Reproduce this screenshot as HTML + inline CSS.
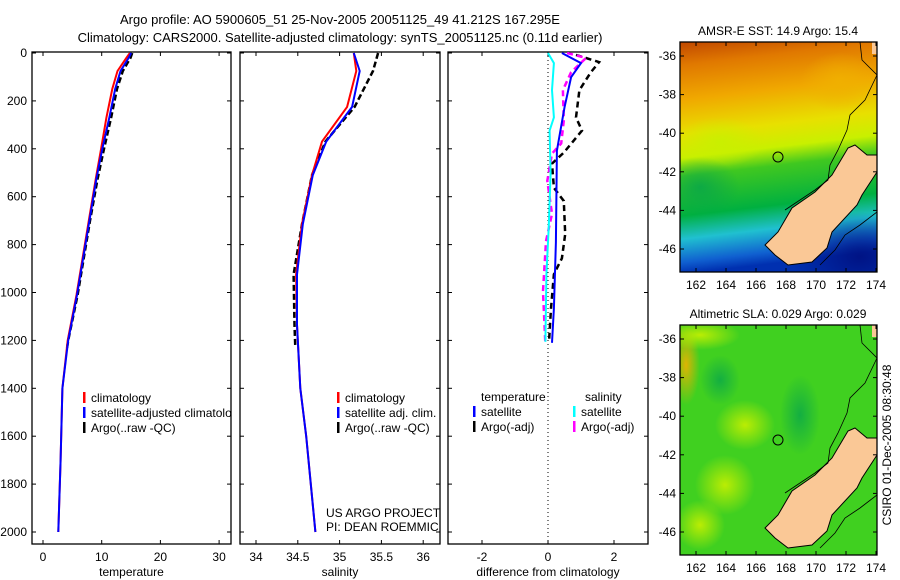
<!DOCTYPE html>
<html><head><meta charset="utf-8"><style>
body{margin:0;background:#fff;}
svg{display:block;font-family:"Liberation Sans",sans-serif;}
</style></head><body>
<svg id="fig" width="900" height="580" viewBox="0 0 900 580" xmlns="http://www.w3.org/2000/svg">
<defs>
<linearGradient id="sstg" x1="0" y1="0" x2="0.1" y2="1">
<stop offset="0" stop-color="#c04800"/><stop offset="0.1" stop-color="#e07800"/><stop offset="0.25" stop-color="#f0a800"/><stop offset="0.4" stop-color="#e8e000"/><stop offset="0.5" stop-color="#c8f000"/><stop offset="0.58" stop-color="#40c820"/><stop offset="0.75" stop-color="#00b040"/><stop offset="0.85" stop-color="#20c0d0"/><stop offset="0.95" stop-color="#1060d0"/><stop offset="1" stop-color="#0030b0"/>
</linearGradient>
<radialGradient id="blob1"><stop offset="0" stop-color="#c8f000" stop-opacity="0.9"/><stop offset="1" stop-color="#c8f000" stop-opacity="0"/></radialGradient>
<radialGradient id="blob2"><stop offset="0" stop-color="#f0b000" stop-opacity="0.9"/><stop offset="1" stop-color="#f0b000" stop-opacity="0"/></radialGradient>
<radialGradient id="blob3"><stop offset="0" stop-color="#00a050" stop-opacity="0.7"/><stop offset="1" stop-color="#00a050" stop-opacity="0"/></radialGradient>
<radialGradient id="blob4"><stop offset="0" stop-color="#001080" stop-opacity="0.9"/><stop offset="1" stop-color="#001080" stop-opacity="0"/></radialGradient>
<clipPath id="c1"><rect x="32" y="52" width="199" height="492"/></clipPath>
<clipPath id="c2"><rect x="240" y="52" width="200" height="492"/></clipPath>
<clipPath id="c3"><rect x="448" y="52" width="200" height="492"/></clipPath>
<clipPath id="m1"><rect x="680" y="42" width="197" height="230"/></clipPath>
<clipPath id="m2"><rect x="680" y="325" width="197" height="230"/></clipPath>
</defs>
<text x="340" y="24" font-size="13" text-anchor="middle">Argo profile: AO 5900605_51 25-Nov-2005 20051125_49 41.212S 167.295E</text>
<text x="340" y="42" font-size="13" text-anchor="middle">Climatology: CARS2000. Satellite-adjusted climatology: synTS_20051125.nc (0.11d earlier)</text>
<g id="panels"></g>
<g id="maps"></g>
<text transform="translate(891,445) rotate(-90)" font-size="12" text-anchor="middle">CSIRO 01-Dec-2005 08:30:48</text>
</svg>
<script>
// ---- data ----
const depthT = [0,20,75,150,270,400,525,700,1010,1200,1400,1700,2000];
const tempClim = [14.8,14.2,12.7,11.8,10.8,9.9,9.0,7.8,5.7,4.2,3.3,3.0,2.6];
const tempSat = [15.0,14.6,13.2,12.3,11.3,10.1,9.1,7.9,5.8,4.3,3.3,3.0,2.6];
const depthArgoT = [0,20,75,150,270,400,525,700,1010,1200,1230];
const tempArgo = [15.2,14.9,13.6,12.6,11.6,10.4,9.3,8.0,5.9,4.3,4.1];
const depthS = [0,75,225,370,510,715,925,1135,1400,1600,2000];
const salClim = [35.17,35.2,35.09,34.79,34.67,34.55,34.48,34.49,34.53,34.6,34.71];
const salSat = [35.17,35.24,35.15,34.84,34.68,34.56,34.49,34.49,34.53,34.6,34.71];
const depthArgoS = [0,75,225,370,510,715,925,1135,1230];
const salArgo = [35.46,35.4,35.18,34.83,34.67,34.55,34.45,34.46,34.47];
const depthDT = [0,42,101,227,408,790,1067,1210];
const diffTSat = [0.42,1.0,0.7,0.5,0.27,0.24,0.18,0.12];
const depthDS = [0,42,155,269,324,504,731,924,1206];
const diffSSat = [0,0.18,0.12,0.18,0.05,0.08,0.02,-0.05,-0.08];
const depthDTA = [8,38,80,155,269,324,416,462,563,618,756,857,924,1067,1206];
const diffTArgo = [0.85,1.55,1.3,0.95,0.85,1.03,0.48,0.12,0.18,0.48,0.52,0.42,0.18,0.09,0.03];
const depthDSA = [0,21,80,155,282,378,420,534,672,786,996,1218];
const diffSArgo = [0.58,1.15,0.7,0.45,0.48,0.4,0.12,-0.02,0.12,-0.06,-0.15,-0.08];
const depthTicks = [0,200,400,600,800,1000,1200,1400,1600,1800,2000];
const tempTicks = [0,10,20,30];
const salTicks = [34,34.5,35,35.5,36];
const diffTicks = [-2,0,2];
const latTicks = [-36,-38,-40,-42,-44,-46];
const lonTicks = [162,164,166,168,170,172,174];

const NS="http://www.w3.org/2000/svg";
const G=document.getElementById('panels');
function el(tag,attrs,parent){const e=document.createElementNS(NS,tag);for(const k in attrs)e.setAttribute(k,attrs[k]);(parent||G).appendChild(e);return e;}
const yD=d=>53+d*0.2395;
const yTop=52,yBot=544;

function panel(x0,x1,xs,ticks,label,name){
  const g=el('g',{});
  
  
  const r=el('rect',{x:x0,y:yTop,width:x1-x0,height:yBot-yTop,fill:'none',stroke:'#000','stroke-width':1.3},g);
  
  
  ticks.forEach(t=>{const x=xs(t);
    el('line',{x1:x,x2:x,y1:yTop,y2:yTop+4,stroke:'#000'},g);
    el('line',{x1:x,x2:x,y1:yBot,y2:yBot-4,stroke:'#000'},g);
    const tx=el('text',{x:x,y:561,'font-size':12,'text-anchor':'middle'},g);tx.textContent=t;
    
    
  });
  depthTicks.forEach(d=>{const y=yD(d);
    el('line',{x1:x0,x2:x0+4,y1:y,y2:y,stroke:'#000'},g);
    el('line',{x1:x1,x2:x1-4,y1:y,y2:y,stroke:'#000'},g);});
  const t=el('text',{x:(x0+x1)/2,y:576,'font-size':12,'text-anchor':'middle'},g);t.textContent=label;
  
  
  return g;
}
function line(g,xs,vals,deps,color,w,dash,name,clip){
  const pts=vals.map((v,i)=>xs(v).toFixed(1)+','+yD(deps[i]).toFixed(1)).join(' ');
  const p=el('polyline',{points:pts,fill:'none',stroke:color,'stroke-width':w,'clip-path':'url(#'+clip+')'},g);
  if(dash)p.setAttribute('stroke-dasharray',dash);
  
  
}
function legend(g,x,y,color,text,clip){
  el('rect',{x:x,y:y-6,width:2.5,height:11,fill:color},g);
  const t=el('text',{x:x+8,y:y+4,'font-size':12},g);t.textContent=text;
  if(clip)t.setAttribute('clip-path','url(#'+clip+')');
  
  
}
depthTicks.forEach(d=>{const t=el('text',{x:27,y:yD(d)+4,'font-size':12,'text-anchor':'end'});t.textContent=d;
  
  });

const xT=v=>43+5.87*v;
const g1=panel(32,231,xT,tempTicks,'temperature','temperature-panel');
line(g1,xT,tempArgo,depthArgoT,'#000',2.5,'6,3','temp-argo-line','c1');
line(g1,xT,tempClim,depthT,'#f00',2,'','temp-climatology-line','c1');
line(g1,xT,tempSat,depthT,'#00f',2,'','temp-satellite-line','c1');
legend(g1,83,398,'#f00','climatology','c1');
legend(g1,83,413,'#00f','satellite-adjusted climatology','c1');
legend(g1,83,428,'#000','Argo(..raw -QC)','c1');

const xS=v=>256+83.6*(v-34);
const g2=panel(240,440,xS,salTicks,'salinity','salinity-panel');
line(g2,xS,salArgo,depthArgoS,'#000',2.5,'6,3','sal-argo-line','c2');
line(g2,xS,salClim,depthS,'#f00',2,'','sal-climatology-line','c2');
line(g2,xS,salSat,depthS,'#00f',2,'','sal-satellite-line','c2');
legend(g2,337,398,'#f00','climatology','c2');
legend(g2,337,413,'#00f','satellite adj. clim.','c2');
legend(g2,337,428,'#000','Argo(..raw -QC)','c2');
let tt=el('text',{x:326,y:517,'font-size':12},g2);tt.textContent='US ARGO PROJECT';


tt=el('text',{x:326,y:531,'font-size':12,'clip-path':'url(#c2)'},g2);tt.textContent='PI: DEAN ROEMMICH';



const xDf=v=>548+33*v;
const g3=panel(448,648,xDf,diffTicks,'difference from climatology','difference-panel');
el('line',{x1:xDf(0),x2:xDf(0),y1:yTop,y2:yBot,stroke:'#000','stroke-dasharray':'1,3'},g3);
line(g3,xDf,diffTArgo,depthDTA,'#000',2.5,'6,4','diff-temp-argo-line','c3');
line(g3,xDf,diffSArgo,depthDSA,'#f0f',2.5,'6,4','diff-sal-argo-line','c3');
line(g3,xDf,diffTSat,depthDT,'#00f',2,'','diff-temp-satellite-line','c3');
line(g3,xDf,diffSSat,depthDS,'#0ff',2,'','diff-sal-satellite-line','c3');
tt=el('text',{x:481,y:401,'font-size':12},g3);tt.textContent='temperature';


tt=el('text',{x:585,y:401,'font-size':12},g3);tt.textContent='salinity';


legend(g3,473,412,'#00f','satellite');
legend(g3,473,427,'#000','Argo(-adj)');
legend(g3,573,412,'#0ff','satellite');
legend(g3,573,427,'#f0f','Argo(-adj)');

// ---- maps ----
const M=document.getElementById('maps');
const land=[[855,145],[867,155],[877,155],[877,172],[862,195],[857,205],[832,232],[827,248],[812,262],[788,265],[775,255],[765,245],[778,232],[792,208],[815,192],[832,175],[848,148]];
const coast=[[860,42],[862,60],[877,75],[865,100],[850,115],[847,130],[838,150],[830,165],[828,180],[815,190],[800,200],[785,210]];
const coast2=[[877,212],[860,225],[845,235],[835,250],[820,265]];
function map(y0,name,title,kind,clip){
  const g=el('g',{},M);
  
  
  const cg=el('g',{'clip-path':'url(#'+clip+')'},g);
  if(kind==='sst'){
    el('rect',{x:680,y:y0,width:197,height:230,fill:'url(#sstg)'},cg);
    el('ellipse',{cx:720,cy:y0+100,rx:45,ry:25,fill:'url(#blob1)'},cg);
    el('ellipse',{cx:700,cy:y0+145,rx:40,ry:30,fill:'url(#blob3)'},cg);
    el('ellipse',{cx:860,cy:y0+215,rx:70,ry:45,fill:'url(#blob4)'},cg);
    el('ellipse',{cx:840,cy:y0+40,rx:40,ry:30,fill:'url(#blob2)'},cg);
  } else {
    el('rect',{x:680,y:y0,width:197,height:230,fill:'#40d020'},cg);
    el('ellipse',{cx:686,cy:y0+40,rx:14,ry:40,fill:'url(#blob2)'},cg);
    el('ellipse',{cx:745,cy:y0+100,rx:30,ry:25,fill:'url(#blob1)'},cg);
    el('ellipse',{cx:725,cy:y0+160,rx:30,ry:30,fill:'url(#blob1)'},cg);
    el('ellipse',{cx:700,cy:y0+200,rx:25,ry:25,fill:'url(#blob1)'},cg);
    el('ellipse',{cx:720,cy:y0+55,rx:20,ry:25,fill:'url(#blob3)'},cg);
    el('ellipse',{cx:800,cy:y0+90,rx:20,ry:40,fill:'url(#blob3)'},cg);
    el('ellipse',{cx:700,cy:y0+10,rx:40,ry:15,fill:'url(#blob1)'},cg);
  }
  const dy=y0-42;
  const sh=a=>a.map(p=>p[0]+','+(p[1]+dy)).join(' ');
  const l=el('polygon',{points:sh(land),fill:'#fac896',stroke:'#000','stroke-width':1},cg);
  
  
  el('rect',{x:872,y:y0,width:6,height:12,fill:'#fac896'},cg);
  el('polyline',{points:sh(coast),fill:'none',stroke:'#000','stroke-width':0.8},cg);
  el('polyline',{points:sh(coast2),fill:'none',stroke:'#000','stroke-width':0.8},cg);
  const c=el('circle',{cx:778,cy:y0+115,r:5,fill:'none',stroke:'#000','stroke-width':1},cg);
  
  
  el('rect',{x:680,y:y0,width:197,height:230,fill:'none',stroke:'#000','stroke-width':1.3},g);
  const t=el('text',{x:778,y:y0-7,'font-size':12,'text-anchor':'middle'},g);t.textContent=title;
  
  
  latTicks.forEach(la=>{const y=y0+14+(-36-la)*19.3;
    el('line',{x1:680,x2:684,y1:y,y2:y,stroke:'#000'},g);
    el('line',{x1:877,x2:873,y1:y,y2:y,stroke:'#000'},g);
    const tx=el('text',{x:676,y:y+4,'font-size':12,'text-anchor':'end'},g);tx.textContent=la;
    
    });
  lonTicks.forEach(lo=>{const x=696+(lo-162)*15;
    el('line',{x1:x,x2:x,y1:y0,y2:y0+4,stroke:'#000'},g);
    el('line',{x1:x,x2:x,y1:y0+230,y2:y0+226,stroke:'#000'},g);
    const tx=el('text',{x:x,y:y0+247,'font-size':12,'text-anchor':'middle'},g);tx.textContent=lo;
    
    });
}
map(42,'sst-map','AMSR-E SST: 14.9  Argo: 15.4','sst','m1');
map(325,'sla-map','Altimetric SLA: 0.029  Argo: 0.029','sla','m2');
</script>
</body></html>
